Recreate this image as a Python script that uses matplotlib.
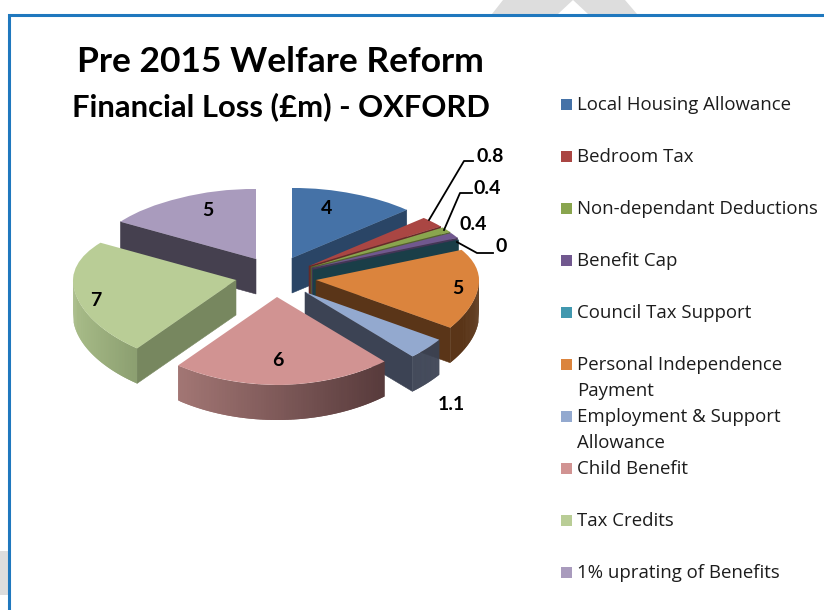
import numpy as np
import matplotlib
matplotlib.use("Agg")
import matplotlib.pyplot as plt
from matplotlib.transforms import Transform
from matplotlib.colors import to_rgb

categories = ["Local Housing Allowance", "Bedroom Tax", "Non-dependant Deductions",
              "Benefit Cap", "Council Tax Support", "Personal Independence\nPayment",
              "Employment & Support\nAllowance", "Child Benefit", "Tax Credits",
              "1% uprating of Benefits"]
values = [4, 0.8, 0.4, 0.4, 0, 5, 1.1, 6, 7, 5]
value_labels = ["4", "0.8", "0.4", "0.4", "0", "5", "1.1", "6", "7", "5"]

top_colors = ["#4572A7", "#AA4643", "#89A54E", "#71588F", "#4198AF",
              "#DB843D", "#93A9CF", "#D19392", "#B9CD96", "#A99BBD"]
legend_colors = top_colors
radial_colors = ["#2A4566", "#672A28", "#52632F", "#443557", "#1A3E48",
                 "#5A3518", "#3C4354", "#5A3C3D", "#77875F", "#45404F"]
outer_left = ["#2A4566", "#672A28", "#52632F", "#443557", "#1A3E48",
              "#5A3518", "#3C4354", "#A27674", "#A8BC88", "#45404F"]
outer_right = ["#2A4566", "#672A28", "#52632F", "#443557", "#1A3E48",
               "#5A3518", "#3C4354", "#573A3B", "#8B9E70", "#45404F"]

# Layout (pixel space of the 824x610 figure)
TIPS = [(292, 258), (309, 266), (311, 267), (312, 268), (313, 270),
        (316, 280), (305, 292), (277, 297), (236, 280), (256, 259)]
DRAW_ORDER = [9, 0, 1, 2, 3, 4, 5, 6, 7, 8]
RX, RY_MID, RY_DELTA, RY_BACK, DEPTH, WARP = 163.0, 79.0, 9.0, 10.0, 35.0, np.deg2rad(5)


def project(u, v, tip):
    u, v = np.asarray(u, float), np.asarray(v, float)
    r, phi = np.hypot(u, v), np.arctan2(u, v)
    phi = phi - WARP * np.sin(phi)
    up, vp = r * np.sin(phi), r * np.cos(phi)
    lift = RY_MID * vp - RY_DELTA * vp * vp - RY_BACK * np.maximum(vp, 0) * (1 - vp * vp)
    return tip[0] + RX * up, tip[1] - lift


class Tilt(Transform):
    input_dims = output_dims = 2
    is_affine = False

    def __init__(self, tip):
        super().__init__()
        self.tip = tip

    def transform_non_affine(self, values):
        x, y = project(values[:, 0], values[:, 1], self.tip)
        return np.column_stack([x, y])


fig = plt.figure(figsize=(8.24, 6.10), dpi=100, facecolor="white")
ax = fig.add_axes([0, 0, 1, 1])
wedges, _ = ax.pie(values, colors=top_colors, startangle=90, counterclock=False, radius=1)
ax.set_aspect("auto")
ax.set_xlim(0, 824)
ax.set_ylim(610, 0)
ax.axis("off")

# watermark fragments and frame
ax.fill([492, 503, 625, 637], [14, 0, 0, 14], color="#DDDDDD", lw=0, zorder=0)
ax.fill([558, 573, 588], [14, 0, 14], color="white", lw=0, zorder=0.1)
ax.fill([0, 8, 8, 0], [551, 551, 595, 595], color="#DDDDDD", lw=0, zorder=0)
ax.plot([9, 9, 824], [610, 15, 15], color="#1F78BE", lw=2.2, zorder=1,
        solid_joinstyle="miter", solid_capstyle="butt")

for rank, i in enumerate(DRAW_ORDER):
    w, tip = wedges[i], TIPS[i]
    base = 5 + rank
    # clockwise angles from 12 o'clock
    a1, a2 = 90 - w.theta2, 90 - w.theta1
    # radial walls
    for ang, side in ((a1, -1), (a2, 1)):
        rad = np.deg2rad(ang)
        if side * np.sin(rad) > 1e-6:
            px, py = project([0, np.sin(rad)], [0, np.cos(rad)], tip)
            ax.fill([px[0], px[1], px[1], px[0]],
                    [py[0], py[1], py[1] + DEPTH, py[0] + DEPTH],
                    color=radial_colors[i], lw=0.4, zorder=base)
    # outer wall with left-to-right shading
    lo, hi = max(a1, 90), min(a2, 270)
    if hi > lo:
        grid = np.linspace(lo, hi, 80)
        px, py = project(np.sin(np.deg2rad(grid)), np.cos(np.deg2rad(grid)), tip)
        cl, cr = np.array(to_rgb(outer_left[i])), np.array(to_rgb(outer_right[i]))
        order = np.argsort(px)
        px, py = px[order], py[order]
        for k in range(len(grid) - 1):
            m = min(k + 2, len(grid) - 1)
            t = (px[k] - px[0]) / (px[-1] - px[0])
            c = cl + (cr - cl) * t
            xs = np.r_[px[k:m + 1], px[k:m + 1][::-1]]
            ys = np.r_[py[k:m + 1], py[k:m + 1][::-1] + DEPTH]
            ax.fill(xs, ys, color=c, lw=0, zorder=base + 0.1)
    # top face: the pie wedge itself, seen through the tilt
    w.set_transform(Tilt(tip) + ax.transData)
    w.set_zorder(base + 0.5)
    w.set_linewidth(0)
    w.set_clip_on(False)

bold = dict(family="Lato", fontweight="bold", color="black", zorder=50)
ax.text(280, 62, "Pre 2015 Welfare Reform", fontsize=25.5, ha="center", va="center", **bold)
ax.text(281, 107, "Financial Loss (£m) - OXFORD", fontsize=22.3, ha="center", va="center", **bold)

label_pos = [(327, 208), (490, 156), (487, 188), (473, 224), (501, 246),
             (458, 289), (451, 404), (278, 361), (96, 300), (208, 211)]
for txt, (x, y) in zip(value_labels, label_pos):
    ax.text(x, y, txt, fontsize=14, ha="center", va="center", **bold)

for xs, ys in (([473, 464, 429], [161, 161, 220]),
               ([472, 460, 444], [193, 193, 230]),
               ([493, 477, 457], [253, 253, 242])):
    ax.plot(xs, ys, color="black", lw=1.3, zorder=49)

legend_y = [104, 156, 208, 260, 312, 364, 416, 468, 520, 572]
for name, col, y in zip(categories, legend_colors, legend_y):
    ax.fill([561, 572, 572, 561], [y - 5.5, y - 5.5, y + 5.5, y + 5.5], color=col, lw=0, zorder=40)
    ax.text(577, y - 7.5, name, fontsize=13.4, family="Open Sans", color="#1c1c1c",
            ha="left", va="top", linespacing=1.5, zorder=40)

fig.savefig("out.png", dpi=100, facecolor="white")
